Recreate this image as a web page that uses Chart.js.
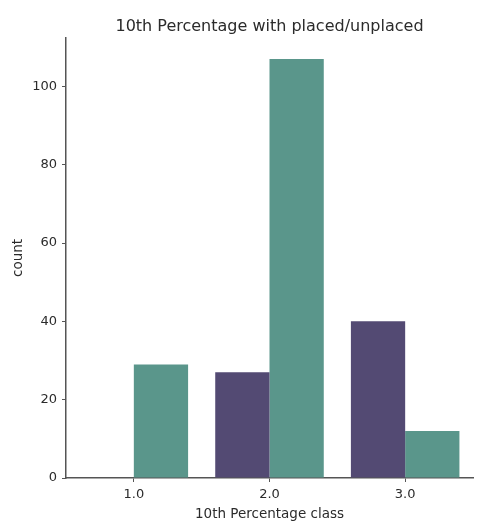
<!DOCTYPE html>
<html>
<head>
<meta charset="utf-8">
<script src="https://cdn.jsdelivr.net/npm/chart.js@4.4.1/dist/chart.umd.min.js"></script>
<style>
    html, body { margin: 0; padding: 0; background: #ffffff; }
    #wrap { width: 477px; height: 523px; position: relative; }
</style>
</head>
<body>
<div id="wrap"><canvas id="grafico"></canvas></div>
<script>
// --- DATOS ---
const categorias = ['1.0', '2.0', '3.0'];
const noColocados = [0, 27, 40];
const colocados = [29, 107, 12];
const marcasY = [0, 20, 40, 60, 80, 100];

const colorMorado = '#534a73';
const colorVerde = '#5a968b';
const colorTexto = '#2b2b2b';
const colorEje = '#555555';

const ctx = document.getElementById('grafico').getContext('2d');

new Chart(ctx, {
    type: 'bar',
    data: {
        labels: categorias,
        datasets: [{
            label: 'Not Placed',
            data: noColocados,
            backgroundColor: colorMorado,
            borderWidth: 0
        }, {
            label: 'Placed',
            data: colocados,
            backgroundColor: colorVerde,
            borderWidth: 0
        }]
    },
    options: {
        responsive: true,
        maintainAspectRatio: false,
        animation: false,
        layout: { padding: { left: 0, right: 4, top: 0, bottom: 0 } },
        datasets: {
            bar: { categoryPercentage: 0.8, barPercentage: 1.0 }
        },
        plugins: {
            legend: { display: false },
            tooltip: { enabled: false }
        },
        scales: {
            // eje superior solo para el titulo, centrado sobre el area del grafico
            tituloX: {
                type: 'category',
                position: 'top',
                labels: categorias,
                offset: true,
                grid: { display: false },
                border: { display: false },
                ticks: { display: false },
                title: {
                    display: true,
                    text: '10th Percentage with placed/unplaced',
                    color: colorTexto,
                    font: { family: 'DejaVu Sans', size: 16 },
                    padding: { top: 17, bottom: 0 }
                },
                afterFit: function(scale) { scale.height = 38; }
            },
            x: {
                offset: true,
                grid: { display: true, offset: false, drawOnChartArea: false, tickLength: 4, color: colorEje, tickColor: colorEje },
                border: { display: true, color: colorEje, width: 1.5 },
                ticks: {
                    color: colorTexto,
                    padding: 5,
                    font: { family: 'DejaVu Sans', size: 13 }
                },
                title: {
                    display: true,
                    text: '10th Percentage class',
                    color: colorTexto,
                    font: { family: 'DejaVu Sans', size: 13.5 },
                    padding: { top: -1, bottom: 0 }
                },
                afterFit: function(scale) { scale.height = 45; }
            },
            y: {
                min: 0,
                max: 112.35,
                grid: { display: true, drawOnChartArea: false, tickLength: 4, color: colorEje, tickColor: colorEje },
                border: { display: true, color: colorEje, width: 1.5 },
                afterBuildTicks: function(scale) {
                    scale.ticks = marcasY.map(v => ({ value: v }));
                },
                ticks: {
                    color: colorTexto,
                    padding: 5,
                    font: { family: 'DejaVu Sans', size: 13 }
                },
                title: {
                    display: true,
                    text: 'count',
                    color: colorTexto,
                    font: { family: 'DejaVu Sans', size: 13.5 },
                    padding: { top: 10, bottom: 0 }
                },
                afterFit: function(scale) { scale.width = 66; }
            }
        }
    }
});
</script>
</body>
</html>
